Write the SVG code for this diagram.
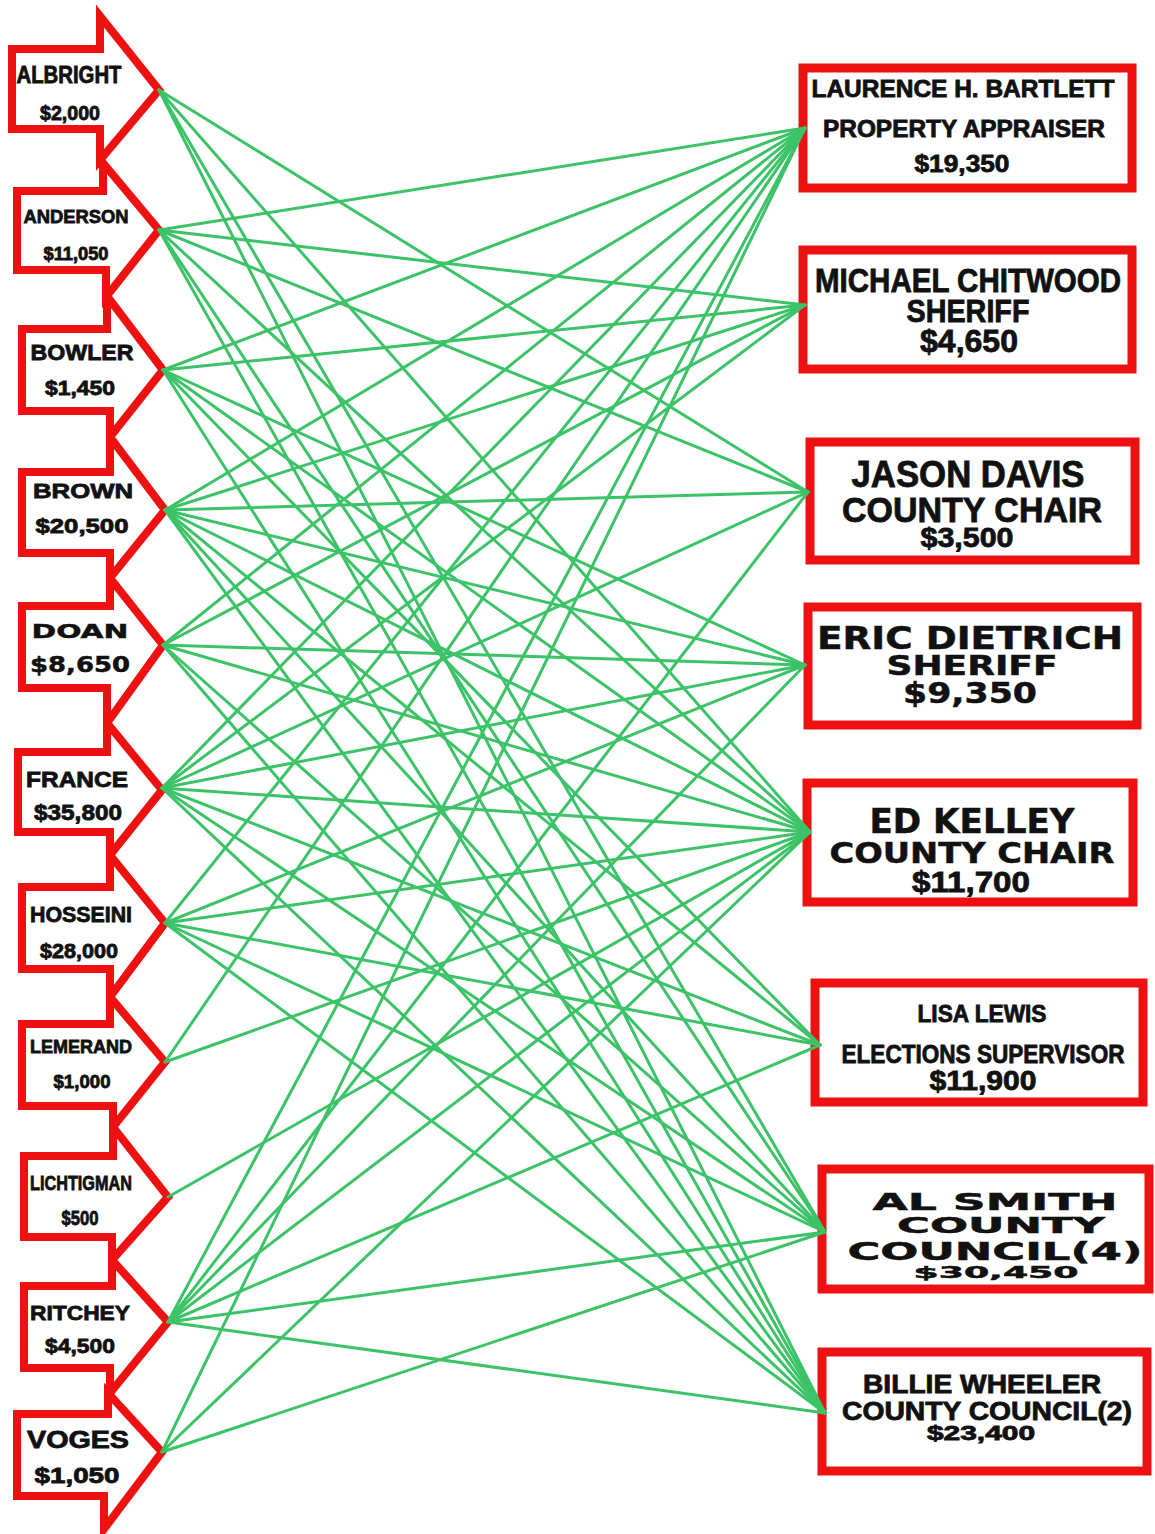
<svg xmlns="http://www.w3.org/2000/svg" width="1155" height="1534" viewBox="0 0 1155 1534">
<style>
.arrow{fill:#fff;stroke:#ee1111;stroke-width:8;stroke-linejoin:miter}
.box{fill:#fff;stroke:#ee1111;stroke-width:9}
.t{font-family:"Liberation Sans",Arial,sans-serif;font-weight:bold;fill:#111;stroke:#111;stroke-width:0.8;text-anchor:middle}
.h{font-family:"DejaVu Sans","Liberation Sans",sans-serif;font-weight:bold;fill:#111;stroke:#111;stroke-width:0.5;text-anchor:middle}
.c line{stroke:#3cc368;stroke-width:3;stroke-linecap:round}
</style>
<rect width="1155" height="1534" fill="#fff"/>
<g id="donors">
<g id="albright"><path class="arrow" d="M12,49 H100 V16 L159,90 L100,160 V129 H12 Z"/>
<text class="t" x="69" y="83" font-size="23" textLength="105" lengthAdjust="spacingAndGlyphs">ALBRIGHT</text>
<text class="t" x="70" y="120" font-size="20" textLength="60" lengthAdjust="spacingAndGlyphs">$2,000</text></g>
<g id="anderson"><path class="arrow" d="M17,191 H103 V163 L159,230 L106,297 V270 H17 Z"/>
<text class="t" x="76" y="223" font-size="19" textLength="105" lengthAdjust="spacingAndGlyphs">ANDERSON</text>
<text class="t" x="76" y="260" font-size="18" textLength="65" lengthAdjust="spacingAndGlyphs">$11,050</text></g>
<g id="bowler"><path class="arrow" d="M22,329 H107 V296 L163,370 L110,437 V411 H22 Z"/>
<text class="t" x="82" y="360" font-size="22" textLength="103" lengthAdjust="spacingAndGlyphs">BOWLER</text>
<text class="t" x="80" y="395" font-size="20" textLength="70" lengthAdjust="spacingAndGlyphs">$1,450</text></g>
<g id="brown"><path class="arrow" d="M22,472 H110 V437 L165,510 L110,578 V553 H22 Z"/>
<text class="t" x="83" y="498" font-size="21" textLength="100" lengthAdjust="spacingAndGlyphs">BROWN</text>
<text class="t" x="82" y="533" font-size="21" textLength="93" lengthAdjust="spacingAndGlyphs">$20,500</text></g>
<g id="doan"><path class="arrow" d="M22,606 H110 V578 L163,645 L107,723 V688 H22 Z"/>
<text class="h" x="80" y="638" font-size="20" textLength="97" lengthAdjust="spacingAndGlyphs">DOAN</text>
<text class="h" x="80" y="672" font-size="21" textLength="100" lengthAdjust="spacingAndGlyphs">$8,650</text></g>
<g id="france"><path class="arrow" d="M18,752 H107 V723 L162,790 L110,855 V832 H18 Z"/>
<text class="t" x="77" y="787" font-size="22" textLength="102" lengthAdjust="spacingAndGlyphs">FRANCE</text>
<text class="t" x="78" y="820" font-size="22" textLength="88" lengthAdjust="spacingAndGlyphs">$35,800</text></g>
<g id="hosseini"><path class="arrow" d="M22,887 H110 V855 L165,923 L110,997 V969 H22 Z"/>
<text class="t" x="81" y="922" font-size="22" textLength="102" lengthAdjust="spacingAndGlyphs">HOSSEINI</text>
<text class="t" x="79" y="958" font-size="20" textLength="78" lengthAdjust="spacingAndGlyphs">$28,000</text></g>
<g id="lemerand"><path class="arrow" d="M22,1024 H110 V997 L165,1062 L113,1127 V1106 H22 Z"/>
<text class="t" x="81" y="1053" font-size="19" textLength="102" lengthAdjust="spacingAndGlyphs">LEMERAND</text>
<text class="t" x="82" y="1088" font-size="19" textLength="57" lengthAdjust="spacingAndGlyphs">$1,000</text></g>
<g id="lichtigman"><path class="arrow" d="M24,1156 H113 V1127 L168,1197 L112,1260 V1237 H24 Z"/>
<text class="t" x="81" y="1190" font-size="21" textLength="102" lengthAdjust="spacingAndGlyphs">LICHTIGMAN</text>
<text class="t" x="80" y="1225" font-size="20" textLength="37" lengthAdjust="spacingAndGlyphs">$500</text></g>
<g id="ritchey"><path class="arrow" d="M24,1286 H112 V1260 L168,1322 L110,1393 V1368 H24 Z"/>
<text class="t" x="80" y="1320" font-size="21" textLength="100" lengthAdjust="spacingAndGlyphs">RITCHEY</text>
<text class="t" x="80" y="1353" font-size="21" textLength="70" lengthAdjust="spacingAndGlyphs">$4,500</text></g>
<g id="voges"><path class="arrow" d="M17,1414 H108 V1393 L162,1452 L104,1529 V1496 H17 Z"/>
<text class="t" x="78" y="1448" font-size="23" textLength="102" lengthAdjust="spacingAndGlyphs">VOGES</text>
<text class="t" x="77" y="1483" font-size="22" textLength="85" lengthAdjust="spacingAndGlyphs">$1,050</text></g>
</g>
<g id="candidates">
<g id="bartlett"><rect class="box" x="803" y="68" width="329" height="120"/>
<text class="t" x="963" y="97" font-size="24" textLength="303" lengthAdjust="spacingAndGlyphs">LAURENCE H. BARTLETT</text>
<text class="t" x="964" y="137" font-size="23" textLength="282" lengthAdjust="spacingAndGlyphs">PROPERTY APPRAISER</text>
<text class="t" x="962" y="172" font-size="24" textLength="95" lengthAdjust="spacingAndGlyphs">$19,350</text></g>
<g id="chitwood"><rect class="box" x="803" y="250" width="329" height="119"/>
<text class="t" x="968" y="292" font-size="33" textLength="306" lengthAdjust="spacingAndGlyphs">MICHAEL CHITWOOD</text>
<text class="t" x="968" y="322" font-size="31" textLength="123" lengthAdjust="spacingAndGlyphs">SHERIFF</text>
<text class="t" x="969" y="352" font-size="31" textLength="98" lengthAdjust="spacingAndGlyphs">$4,650</text></g>
<g id="davis"><rect class="box" x="810" y="442" width="325" height="118"/>
<text class="t" x="968" y="487" font-size="36" textLength="233" lengthAdjust="spacingAndGlyphs">JASON DAVIS</text>
<text class="t" x="972" y="522" font-size="35" textLength="260" lengthAdjust="spacingAndGlyphs">COUNTY CHAIR</text>
<text class="t" x="967" y="547" font-size="27" textLength="93" lengthAdjust="spacingAndGlyphs">$3,500</text></g>
<g id="dietrich"><rect class="box" x="808" y="607" width="329" height="118"/>
<text class="h" x="970" y="649" font-size="32" textLength="306" lengthAdjust="spacingAndGlyphs">ERIC DIETRICH</text>
<text class="h" x="972" y="675" font-size="27" textLength="171" lengthAdjust="spacingAndGlyphs">SHERIFF</text>
<text class="h" x="970" y="703" font-size="29" textLength="134" lengthAdjust="spacingAndGlyphs">$9,350</text></g>
<g id="kelley"><rect class="box" x="807" y="783" width="326" height="119"/>
<text class="h" x="972" y="833" font-size="33" textLength="205" lengthAdjust="spacingAndGlyphs">ED KELLEY</text>
<text class="h" x="972" y="863" font-size="29" textLength="285" lengthAdjust="spacingAndGlyphs">COUNTY CHAIR</text>
<text class="t" x="971" y="892" font-size="29" textLength="118" lengthAdjust="spacingAndGlyphs">$11,700</text></g>
<g id="lewis"><rect class="box" x="815" y="983" width="328" height="119"/>
<text class="t" x="982" y="1022" font-size="23" textLength="129" lengthAdjust="spacingAndGlyphs">LISA LEWIS</text>
<text class="t" x="983" y="1063" font-size="25" textLength="283" lengthAdjust="spacingAndGlyphs">ELECTIONS SUPERVISOR</text>
<text class="t" x="983" y="1090" font-size="27" textLength="107" lengthAdjust="spacingAndGlyphs">$11,900</text></g>
<g id="smith"><rect class="box" x="822" y="1169" width="327" height="120"/>
<text class="h" x="995" y="1210" font-size="23" textLength="245" lengthAdjust="spacingAndGlyphs">AL SMITH</text>
<text class="h" x="1001" y="1233" font-size="21" textLength="208" lengthAdjust="spacingAndGlyphs">COUNTY</text>
<text class="h" x="995" y="1260" font-size="24" textLength="295" lengthAdjust="spacingAndGlyphs">COUNCIL(4)</text>
<text class="h" x="996" y="1278" font-size="16" textLength="165" lengthAdjust="spacingAndGlyphs">$30,450</text></g>
<g id="wheeler"><rect class="box" x="822" y="1352" width="325" height="119"/>
<text class="t" x="982" y="1393" font-size="25" textLength="238" lengthAdjust="spacingAndGlyphs">BILLIE WHEELER</text>
<text class="t" x="987" y="1420" font-size="25" textLength="290" lengthAdjust="spacingAndGlyphs">COUNTY COUNCIL(2)</text>
<text class="t" x="981" y="1440" font-size="20" textLength="108" lengthAdjust="spacingAndGlyphs">$23,400</text></g>
</g>
<g id="connectors" class="c">
<line x1="159" y1="90" x2="808" y2="492"/>
<line x1="159" y1="90" x2="810" y2="832"/>
<line x1="159" y1="90" x2="825" y2="1232"/>
<line x1="159" y1="90" x2="825" y2="1413"/>
<line x1="159" y1="230" x2="805" y2="128"/>
<line x1="159" y1="230" x2="805" y2="305"/>
<line x1="159" y1="230" x2="808" y2="492"/>
<line x1="159" y1="230" x2="810" y2="832"/>
<line x1="159" y1="230" x2="825" y2="1232"/>
<line x1="159" y1="230" x2="825" y2="1413"/>
<line x1="163" y1="370" x2="805" y2="128"/>
<line x1="163" y1="370" x2="805" y2="305"/>
<line x1="163" y1="370" x2="805" y2="665"/>
<line x1="163" y1="370" x2="810" y2="832"/>
<line x1="163" y1="370" x2="820" y2="1045"/>
<line x1="163" y1="370" x2="825" y2="1413"/>
<line x1="165" y1="510" x2="805" y2="128"/>
<line x1="165" y1="510" x2="805" y2="305"/>
<line x1="165" y1="510" x2="808" y2="492"/>
<line x1="165" y1="510" x2="805" y2="665"/>
<line x1="165" y1="510" x2="810" y2="832"/>
<line x1="165" y1="510" x2="820" y2="1045"/>
<line x1="165" y1="510" x2="825" y2="1232"/>
<line x1="165" y1="510" x2="825" y2="1413"/>
<line x1="163" y1="645" x2="805" y2="128"/>
<line x1="163" y1="645" x2="805" y2="305"/>
<line x1="163" y1="645" x2="805" y2="665"/>
<line x1="163" y1="645" x2="810" y2="832"/>
<line x1="163" y1="645" x2="825" y2="1232"/>
<line x1="163" y1="645" x2="825" y2="1413"/>
<line x1="162" y1="788" x2="805" y2="128"/>
<line x1="162" y1="788" x2="805" y2="305"/>
<line x1="162" y1="788" x2="808" y2="492"/>
<line x1="162" y1="788" x2="805" y2="665"/>
<line x1="162" y1="788" x2="810" y2="832"/>
<line x1="162" y1="788" x2="820" y2="1045"/>
<line x1="162" y1="788" x2="825" y2="1232"/>
<line x1="162" y1="788" x2="825" y2="1413"/>
<line x1="165" y1="923" x2="805" y2="128"/>
<line x1="165" y1="923" x2="805" y2="665"/>
<line x1="165" y1="923" x2="810" y2="832"/>
<line x1="165" y1="923" x2="820" y2="1045"/>
<line x1="165" y1="923" x2="825" y2="1232"/>
<line x1="165" y1="923" x2="825" y2="1413"/>
<line x1="165" y1="1062" x2="805" y2="128"/>
<line x1="165" y1="1062" x2="810" y2="832"/>
<line x1="168" y1="1197" x2="810" y2="832"/>
<line x1="168" y1="1322" x2="805" y2="128"/>
<line x1="168" y1="1322" x2="808" y2="492"/>
<line x1="168" y1="1322" x2="805" y2="665"/>
<line x1="168" y1="1322" x2="810" y2="832"/>
<line x1="168" y1="1322" x2="820" y2="1045"/>
<line x1="168" y1="1322" x2="825" y2="1232"/>
<line x1="168" y1="1322" x2="825" y2="1413"/>
<line x1="162" y1="1452" x2="805" y2="128"/>
<line x1="162" y1="1452" x2="810" y2="832"/>
<line x1="162" y1="1452" x2="825" y2="1232"/>
</g>
</svg>
